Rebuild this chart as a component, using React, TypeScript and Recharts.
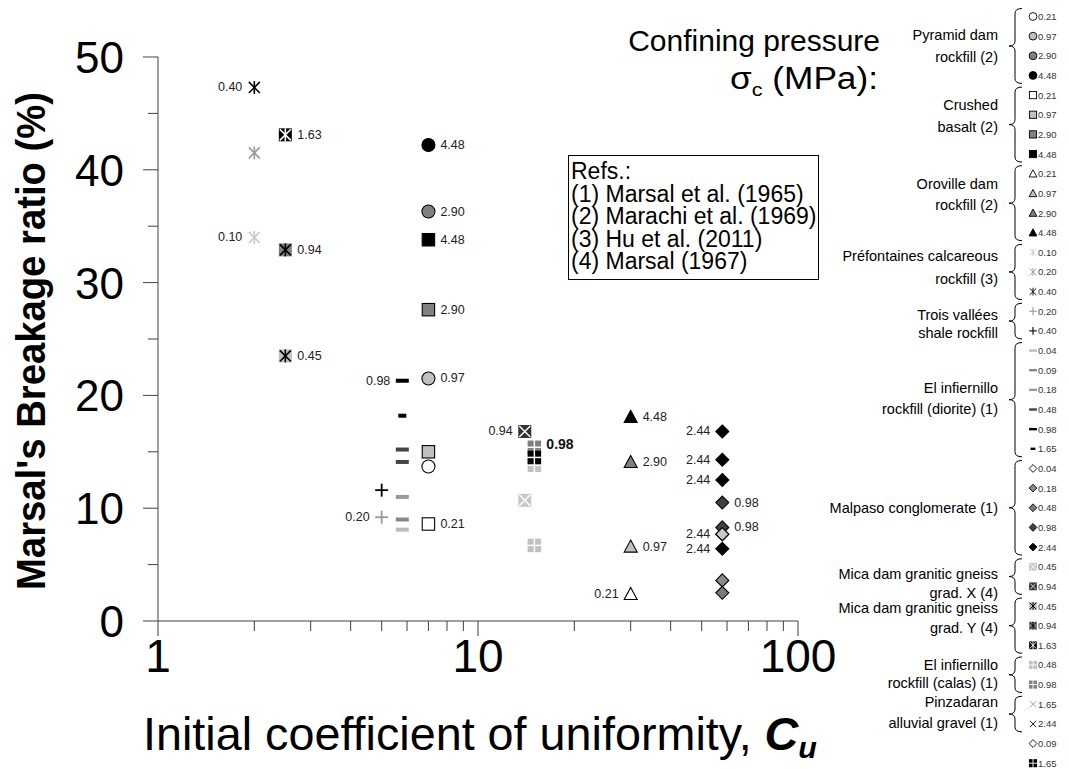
import React from "react";
import { ScatterChart, Scatter, XAxis, YAxis } from "recharts";

const FONT = "'Liberation Sans', Arial, sans-serif";

// Pyramid dam rockfill (2) - circles
const pyramidCu = [7.0, 7.0, 7.0, 7.0];
const pyramidBr = [13.7, 21.5, 36.3, 42.2];
const pyramidP = ["0.21", "0.97", "2.90", "4.48"];
const pyramidLab = ["", "R", "R", "R"];

// Crushed basalt (2) - squares
const basaltCu = [7.0, 7.0, 7.0, 7.0];
const basaltBr = [8.6, 15.0, 27.6, 33.8];
const basaltP = ["0.21", "0.97", "2.90", "4.48"];
const basaltLab = ["R", "", "R", "R"];

// Oroville dam rockfill (2) - triangles
const orovilleCu = [30, 30, 30, 30];
const orovilleBr = [2.4, 6.6, 14.1, 18.1];
const orovilleP = ["0.21", "0.97", "2.90", "4.48"];
const orovilleLab = ["L", "R", "R", "R"];

// Préfontaines calcareous rockfill (3)
const prefCu = [2.0, 2.0, 2.0];
const prefBr = [34.0, 41.5, 47.3];
const prefP = ["0.10", "0.20", "0.40"];
const prefLab = ["L", "", "L"];

// Trois vallées shale rockfill
const troisCu = [5.0, 5.0];
const troisBr = [9.2, 11.6];
const troisP = ["0.20", "0.40"];
const troisLab = ["L", ""];

// El infiernillo rockfill (diorite) (1)
const dioriteCu = [5.8, 5.8, 5.8, 5.8, 5.8, 5.8, 5.8];
const dioriteBr = [8.1, 9.0, 11.0, 14.1, 15.2, 21.3, 18.2];
const dioriteP = ["0.04", "0.09", "0.18", "0.48", "0.48", "0.98", "1.65"];
const dioriteLab = ["", "", "", "", "", "L", ""];

// Malpaso conglomerate (1)
const malpasoCu = [58, 58, 58, 58, 58, 58, 58, 58, 58, 58];
const malpasoBr = [16.8, 14.3, 12.5, 10.5, 7.7, 8.3, 7.7, 6.4, 3.6, 2.5];
const malpasoP = ["2.44", "2.44", "2.44", "0.98", "2.44", "0.98", "0.09", "2.44", "0.18", "0.48"];
const malpasoLab = ["L", "L", "L", "R", "L", "R", "", "L", "", ""];

// Mica dam granitic gneiss grad. X (4)
const micaXCu = [14, 14];
const micaXBr = [10.7, 16.8];
const micaXP = ["0.45", "0.94"];
const micaXLab = ["", "L"];

// Mica dam granitic gneiss grad. Y (4)
const micaYCu = [2.5, 2.5, 2.5];
const micaYBr = [23.5, 32.9, 43.1];
const micaYP = ["0.45", "0.94", "1.63"];
const micaYLab = ["R", "R", "R"];

// El infiernillo rockfill (calas) (1)
const calasCu = [15, 15, 15, 15];
const calasBr = [6.7, 13.8, 15.4, 14.5];
const calasP = ["0.48", "0.48", "0.98", "1.65"];
const calasLab = ["", "", "Rb", ""];

const xTicks = [1, 2, 3, 4, 5, 6, 7, 8, 9, 10, 20, 30, 40, 50, 60, 70, 80, 90, 100];
const xMajor = [1, 10, 100];
const yTicks = [0, 5, 10, 15, 20, 25, 30, 35, 40, 45, 50];

const tones: Record<string, Record<string, string>> = {
  circle: { "0.21": "#ffffff", "0.97": "#c0c0c0", "2.90": "#808080", "4.48": "#000000" },
  square: { "0.21": "#ffffff", "0.97": "#c0c0c0", "2.90": "#808080", "4.48": "#000000" },
  triangle: { "0.21": "#ffffff", "0.97": "#c0c0c0", "2.90": "#808080", "4.48": "#000000" },
  aster: { "0.10": "#c8c8c8", "0.20": "#999999", "0.40": "#000000" },
  plus: { "0.20": "#999999", "0.40": "#000000" },
  dash: { "0.04": "#bbbbbb", "0.09": "#888888", "0.18": "#999999", "0.48": "#444444", "0.98": "#000000", "1.65": "#000000" },
  diamond: { "0.04": "#ffffff", "0.09": "#c8c8c8", "0.18": "#8a8a8a", "0.48": "#7a7a7a", "0.98": "#404040", "2.44": "#000000" },
  sqx: { "0.45": "#c8c8c8", "0.94": "#333333" },
  sqast: { "0.45": "#c0c0c0", "0.94": "#808080", "1.63": "#000000" },
  grid: { "0.48": "#c0c0c0", "0.98": "#808080", "1.65": "#000000" },
  xmark: { "1.65": "#999999", "2.44": "#000000" },
};

type Pt = { cu: number; br: number; p: string; lab: string };
const build = (cu: number[], br: number[], p: string[], lab: string[]): Pt[] =>
  cu.map((c, i) => ({ cu: c, br: br[i], p: p[i], lab: lab[i] }));

function Mark({ kind, p, x, y, k = 1 }: { kind: string; p: string; x: number; y: number; k?: number }) {
  const c = (tones[kind] && tones[kind][p]) || "#000";
  const h = 6.5 * k;
  const sw = Math.max(0.9, 1.1 * k);
  if (kind === "circle") return <circle cx={x} cy={y} r={h} fill={c} stroke="#000" strokeWidth={sw} />;
  if (kind === "square")
    return <rect x={x - h + 0.3} y={y - h + 0.3} width={2 * h - 0.6} height={2 * h - 0.6} fill={c} stroke="#000" strokeWidth={sw} />;
  if (kind === "triangle")
    return (
      <polygon
        points={`${x},${y - h} ${x + h},${y + h * 0.85} ${x - h},${y + h * 0.85}`}
        fill={c}
        stroke="#000"
        strokeWidth={sw}
        strokeLinejoin="miter"
      />
    );
  if (kind === "diamond")
    return <polygon points={`${x},${y - h} ${x + h},${y} ${x},${y + h} ${x - h},${y}`} fill={c} stroke="#000" strokeWidth={sw} />;
  if (kind === "aster" || kind === "sqast") {
    const lc = kind === "aster" ? c : p === "1.63" ? "#fff" : "#000";
    return (
      <g>
        {kind === "sqast" && <rect x={x - h} y={y - h} width={2 * h} height={2 * h} fill={c} />}
        <g stroke={lc} strokeWidth={1.6 * k}>
          <line x1={x} y1={y - h} x2={x} y2={y + h} />
          <line x1={x - h * 0.85} y1={y - h * 0.85} x2={x + h * 0.85} y2={y + h * 0.85} />
          <line x1={x + h * 0.85} y1={y - h * 0.85} x2={x - h * 0.85} y2={y + h * 0.85} />
        </g>
      </g>
    );
  }
  if (kind === "sqx")
    return (
      <g>
        <rect x={x - h} y={y - h} width={2 * h} height={2 * h} fill={c} />
        <g stroke="#fff" strokeWidth={1.4 * k}>
          <line x1={x - h + 1} y1={y - h + 1} x2={x + h - 1} y2={y + h - 1} />
          <line x1={x + h - 1} y1={y - h + 1} x2={x - h + 1} y2={y + h - 1} />
        </g>
      </g>
    );
  if (kind === "plus")
    return (
      <g stroke={c} strokeWidth={1.8 * k}>
        <line x1={x - h} y1={y} x2={x + h} y2={y} />
        <line x1={x} y1={y - h} x2={x} y2={y + h} />
      </g>
    );
  if (kind === "xmark")
    return (
      <g stroke={c} strokeWidth={1.5 * k}>
        <line x1={x - h * 0.8} y1={y - h * 0.8} x2={x + h * 0.8} y2={y + h * 0.8} />
        <line x1={x + h * 0.8} y1={y - h * 0.8} x2={x - h * 0.8} y2={y + h * 0.8} />
      </g>
    );
  if (kind === "dash") {
    const w = p === "1.65" ? 4 * k : h;
    return <rect x={x - w} y={y - 2 * k} width={2 * w} height={4 * k} fill={c} />;
  }
  if (kind === "grid") {
    const s = 6 * k;
    const g = 1.5 * k;
    return (
      <g fill={c}>
        <rect x={x - s - g / 2} y={y - s - g / 2} width={s} height={s} />
        <rect x={x + g / 2} y={y - s - g / 2} width={s} height={s} />
        <rect x={x - s - g / 2} y={y + g / 2} width={s} height={s} />
        <rect x={x + g / 2} y={y + g / 2} width={s} height={s} />
      </g>
    );
  }
  return <g />;
}

const markShape = (kind: string) => (props: any) => {
  const { cx, cy, payload } = props;
  const lab: string = payload.lab;
  return (
    <g>
      <Mark kind={kind} p={payload.p} x={cx} y={cy} />
      {lab === "R" && (
        <text x={cx + 12} y={cy} fontSize={12.5} fontFamily={FONT} fill="#222" dominantBaseline="central">
          {payload.p}
        </text>
      )}
      {lab === "Rb" && (
        <text x={cx + 12} y={cy - 3} fontSize={14} fontWeight="bold" fontFamily={FONT} fill="#111" dominantBaseline="central">
          {payload.p}
        </text>
      )}
      {lab === "L" && (
        <text x={cx - 12} y={cy} fontSize={12.5} fontFamily={FONT} fill="#222" textAnchor="end" dominantBaseline="central">
          {payload.p}
        </text>
      )}
    </g>
  );
};

function XTick(props: any) {
  const { x, y, payload } = props;
  const v = payload.value;
  const major = xMajor.includes(v);
  return (
    <g>
      <line x1={x} x2={x} y1={y} y2={y + (major ? 15 : 10)} stroke="#404040" strokeWidth={1} />
      {major && (
        <text x={x} y={y + 51} textAnchor="middle" fontSize={46} fontFamily={FONT} fill="#000">
          {v}
        </text>
      )}
    </g>
  );
}

function YTick(props: any) {
  const { x, y, payload } = props;
  const v = payload.value;
  const major = v % 10 === 0;
  return (
    <g>
      <line x1={x - (major ? 15 : 10)} x2={x} y1={y} y2={y} stroke="#404040" strokeWidth={1} />
      {major && (
        <text x={x - 34} y={y + 16} textAnchor="end" fontSize={44} fontFamily={FONT} fill="#000">
          {v}
        </text>
      )}
    </g>
  );
}

// legend on the right
const legendRows: [string, string][] = [
  ["circle", "0.21"], ["circle", "0.97"], ["circle", "2.90"], ["circle", "4.48"],
  ["square", "0.21"], ["square", "0.97"], ["square", "2.90"], ["square", "4.48"],
  ["triangle", "0.21"], ["triangle", "0.97"], ["triangle", "2.90"], ["triangle", "4.48"],
  ["aster", "0.10"], ["aster", "0.20"], ["aster", "0.40"],
  ["plus", "0.20"], ["plus", "0.40"],
  ["dash", "0.04"], ["dash", "0.09"], ["dash", "0.18"], ["dash", "0.48"], ["dash", "0.98"], ["dash", "1.65"],
  ["diamond", "0.04"], ["diamond", "0.18"], ["diamond", "0.48"], ["diamond", "0.98"], ["diamond", "2.44"],
  ["sqx", "0.45"], ["sqx", "0.94"],
  ["sqast", "0.45"], ["sqast", "0.94"], ["sqast", "1.63"],
  ["grid", "0.48"], ["grid", "0.98"],
  ["xmark", "1.65"], ["xmark", "2.44"],
  ["diamond", "0.04"], ["grid", "1.65"],
];
const legendLabels = [...legendRows.map((r) => r[1])];
legendLabels[37] = "0.09";

const groups: { from: number; to: number; lines: string[]; at: number[] }[] = [
  { from: 0, to: 3, lines: ["Pyramid dam", "rockfill (2)"], at: [0.96, 2.08] },
  { from: 4, to: 7, lines: ["Crushed", "basalt (2)"], at: [4.5, 5.6] },
  { from: 8, to: 11, lines: ["Oroville dam", "rockfill (2)"], at: [8.5, 9.6] },
  { from: 12, to: 14, lines: ["Préfontaines calcareous", "rockfill (3)"], at: [12.2, 13.35] },
  { from: 15, to: 16, lines: ["Trois vallées", "shale rockfill"], at: [15.2, 16.1] },
  { from: 17, to: 22, lines: ["El infiernillo", "rockfill (diorite) (1)"], at: [18.9, 19.95] },
  { from: 23, to: 27, lines: ["Malpaso conglomerate (1)"], at: [25.0] },
  { from: 28, to: 29, lines: ["Mica dam granitic gneiss", "grad. X (4)"], at: [28.35, 29.35] },
  { from: 30, to: 32, lines: ["Mica dam granitic gneiss", "grad. Y (4)"], at: [30.1, 31.1] },
  { from: 33, to: 34, lines: ["El infiernillo", "rockfill (calas) (1)"], at: [33.0, 33.9] },
  { from: 35, to: 36, lines: ["Pinzadaran", "alluvial gravel (1)"], at: [34.9, 35.95] },
];

const rowY = (r: number) => 16.5 + 19.65 * r;

function brace(top: number, bot: number) {
  const x1 = 1022;
  const x0 = 1015;
  const xp = 1009;
  const mid = (top + bot) / 2;
  const r = 5;
  return `M${x1},${top} Q${x0},${top} ${x0},${top + r} L${x0},${mid - r} Q${x0},${mid} ${xp},${mid} Q${x0},${mid} ${x0},${mid + r} L${x0},${bot - r} Q${x0},${bot} ${x1},${bot}`;
}

function Overlay() {
  return (
    <svg width={1069} height={769} style={{ position: "absolute", left: 0, top: 0, pointerEvents: "none" }} fontFamily={FONT}>
      <text
        transform="translate(45,341) rotate(-90)"
        textAnchor="middle"
        fontSize={41}
        fontWeight="bold"
        textLength={498}
        lengthAdjust="spacingAndGlyphs"
      >
        Marsal's Breakage ratio (%)
      </text>
      <text x={143} y={750} fontSize={46} textLength={674} lengthAdjust="spacingAndGlyphs">
        Initial coefficient of uniformity,{" "}
        <tspan fontWeight="bold" fontStyle="italic">C</tspan>
        <tspan fontWeight="bold" fontStyle="italic" fontSize={30} dy={8}>u</tspan>
      </text>
      <text x={880} y={51} fontSize={30} textAnchor="end">Confining pressure</text>
      <text x={730} y={89} fontSize={31} textLength={148} lengthAdjust="spacingAndGlyphs">
        σ<tspan fontSize={19} dy={7}>c</tspan>
        <tspan dy={-7}> (MPa):</tspan>
      </text>
      <rect x={568.5} y={155.5} width={250} height={124} fill="#fff" stroke="#000" strokeWidth={1} />
      {["Refs.:", "(1) Marsal et al. (1965)", "(2) Marachi et al. (1969)", "(3) Hu et al. (2011)", "(4) Marsal (1967)"].map((t, i) => (
        <text key={i} x={571} y={179 + 22.5 * i} fontSize={23}>
          {t}
        </text>
      ))}
      {legendRows.map(([kind, p], i) => (
        <g key={i}>
          <Mark kind={kind} p={p} x={1033} y={rowY(i)} k={0.6} />
          <text x={1038} y={rowY(i)} fontSize={9.5} fill="#333" dominantBaseline="central">
            {legendLabels[i]}
          </text>
        </g>
      ))}
      {groups.map((g, i) => (
        <g key={i}>
          <path d={brace(rowY(g.from) - 8, rowY(g.to) + 8)} fill="none" stroke="#000" strokeWidth={1} />
          {g.lines.map((l, j) => (
            <text key={j} x={998} y={rowY(g.at[j])} fontSize={14.5} textAnchor="end" dominantBaseline="central">
              {l}
            </text>
          ))}
        </g>
      ))}
    </svg>
  );
}

export default function App() {
  return (
    <div style={{ position: "absolute", left: 0, top: 0, width: 1069, height: 769, background: "#fff" }}>
      <ScatterChart width={1069} height={769} margin={{ top: 57, right: 271, bottom: 88, left: 98 }}>
        <XAxis
          type="number"
          dataKey="cu"
          scale="log"
          domain={[1, 100]}
          ticks={xTicks}
          interval={0}
          tickSize={0}
          tickMargin={0}
          height={60}
          tick={<XTick />}
          stroke="#404040"
          allowDataOverflow
        />
        <YAxis
          type="number"
          dataKey="br"
          domain={[0, 50]}
          ticks={yTicks}
          interval={0}
          tickSize={0}
          tickMargin={0}
          width={60}
          tick={<YTick />}
          stroke="#404040"
        />
        <Scatter data={build(prefCu, prefBr, prefP, prefLab)} shape={markShape("aster")} isAnimationActive={false} />
        <Scatter data={build(micaYCu, micaYBr, micaYP, micaYLab)} shape={markShape("sqast")} isAnimationActive={false} />
        <Scatter data={build(troisCu, troisBr, troisP, troisLab)} shape={markShape("plus")} isAnimationActive={false} />
        <Scatter data={build(dioriteCu, dioriteBr, dioriteP, dioriteLab)} shape={markShape("dash")} isAnimationActive={false} />
        <Scatter data={build(pyramidCu, pyramidBr, pyramidP, pyramidLab)} shape={markShape("circle")} isAnimationActive={false} />
        <Scatter data={build(basaltCu, basaltBr, basaltP, basaltLab)} shape={markShape("square")} isAnimationActive={false} />
        <Scatter data={build(micaXCu, micaXBr, micaXP, micaXLab)} shape={markShape("sqx")} isAnimationActive={false} />
        <Scatter data={build(calasCu, calasBr, calasP, calasLab)} shape={markShape("grid")} isAnimationActive={false} />
        <Scatter data={build(orovilleCu, orovilleBr, orovilleP, orovilleLab)} shape={markShape("triangle")} isAnimationActive={false} />
        <Scatter data={build(malpasoCu, malpasoBr, malpasoP, malpasoLab)} shape={markShape("diamond")} isAnimationActive={false} />
      </ScatterChart>
      <Overlay />
    </div>
  );
}
